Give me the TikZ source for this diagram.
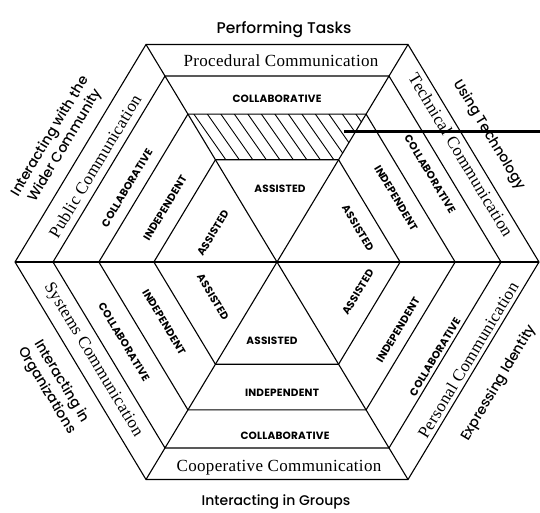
\documentclass[tikz,border=0pt]{standalone}
\usepackage{fontspec}
\newfontfamily\geosans{Poppins}[LetterSpace=2]
\newfontfamily\geomid{Poppins Medium}
\newfontfamily\bandserif{Liberation Serif}[LetterSpace=2]
\begin{document}
\begin{tikzpicture}[x=1pt,y=-1pt,
  rule/.style={line width=1.1pt, line join=miter},
  hatchline/.style={line width=0.9pt},
  strand/.style={font=\bandserif\fontsize{17}{18}\selectfont, inner sep=0pt},
  mode/.style={font=\geosans\bfseries\fontsize{10.5}{12}\selectfont, inner sep=0pt},
  theme/.style={font=\geomid\fontsize{14}{17.5}\selectfont, align=center, inner sep=0pt},
  pointer/.style={line width=3pt}]
\useasboundingbox (0,0) rectangle (540,512);

% centre and outer corners of the hexagon
\coordinate (c)  at (277,262);
\coordinate (L)  at (15,262);
\coordinate (R)  at (539,262);
\coordinate (TL) at (146,44.5);
\coordinate (TR) at (408,44.5);
\coordinate (BL) at (146,479.5);
\coordinate (BR) at (408,479.5);

% hatched band in the top sector
\begin{scope}
  \clip[shift={(277,262)}] (-131*0.68,-217.5*0.68) -- (131*0.68,-217.5*0.68)
        -- (131*0.47,-217.5*0.47) -- (-131*0.47,-217.5*0.47) -- cycle;
  \foreach \x in {120,133.5,...,400}
    \draw[hatchline] (\x,105) -- ++(42,60);
\end{scope}

% concentric hexagons
\foreach \k in {1,0.855,0.68,0.47}
  \draw[rule, shift={(277,262)}, scale=\k]
    (-262,0) -- (-131,-217.5) -- (131,-217.5) -- (262,0)
    -- (131,217.5) -- (-131,217.5) -- cycle;

% the three diagonals through the centre
\draw[rule] (L) -- (c) -- (R);
\draw[rule] (TL) -- (c) -- (BR);
\draw[rule] (TR) -- (c) -- (BL);

% outer band labels
\node[strand]             (proc) at (281,61)  {Procedural Communication};
\node[strand, rotate=-59] (tech) at (461,155) {Technical Communication};
\node[strand, rotate=59]  (pers) at (468,360) {Personal Communication};
\node[strand]             (coop) at (279,468) {Cooperative Communication};
\node[strand, rotate=-59] (syst) at (93,360)  {Systems Communication};
\node[strand, rotate=59]  (publ) at (95,166)  {Public Communication};

% levels, top sector
\node[mode] (t2) at (277,98.5) {COLLABORATIVE};
\node[mode] (t4) at (280,189)  {ASSISTED};
% upper right
\node[mode, rotate=-59] (ur2) at (430,174) {COLLABORATIVE};
\node[mode, rotate=-59] (ur3) at (396,198) {INDEPENDENT};
\node[mode, rotate=-59] (ur4) at (358,228) {ASSISTED};
% lower right
\node[mode, rotate=59] (lr2) at (435,357) {COLLABORATIVE};
\node[mode, rotate=59] (lr3) at (398,330) {INDEPENDENT};
\node[mode, rotate=59] (lr4) at (358,292) {ASSISTED};
% bottom
\node[mode] (b2) at (285,436) {COLLABORATIVE};
\node[mode] (b3) at (282,393) {INDEPENDENT};
\node[mode] (b4) at (272,341) {ASSISTED};
% lower left
\node[mode, rotate=-59] (ll2) at (124,342) {COLLABORATIVE};
\node[mode, rotate=-59] (ll3) at (164,322) {INDEPENDENT};
\node[mode, rotate=-59] (ll4) at (213,297) {ASSISTED};
% upper left
\node[mode, rotate=59] (ul2) at (127,188) {COLLABORATIVE};
\node[mode, rotate=59] (ul3) at (165,208) {INDEPENDENT};
\node[mode, rotate=59] (ul4) at (213,233) {ASSISTED};

% themes around the outside
\node[theme, font=\geomid\fontsize{15.5}{17}\selectfont] (tasks) at (284,30) {Performing Tasks};
\node[theme, rotate=-59] (techno) at (489,135) {Using Technology};
\node[theme, rotate=59]  (ident)  at (499,383) {Expressing Identity};
\node[theme]             (groups) at (276,502) {Interacting in Groups};
\node[theme, rotate=-59] (orgs)   at (54,386)  {Interacting in\\Organizations};
\node[theme, rotate=59]  (commun) at (58,141)  {Interacting with the\\Wider Community};

% leader line out of the hatched band
\coordinate (ptr)    at (344,131.5);
\coordinate (ptrend) at (540,131.5);
\draw[pointer] (ptr) -- (ptrend);
\end{tikzpicture}
\end{document}
